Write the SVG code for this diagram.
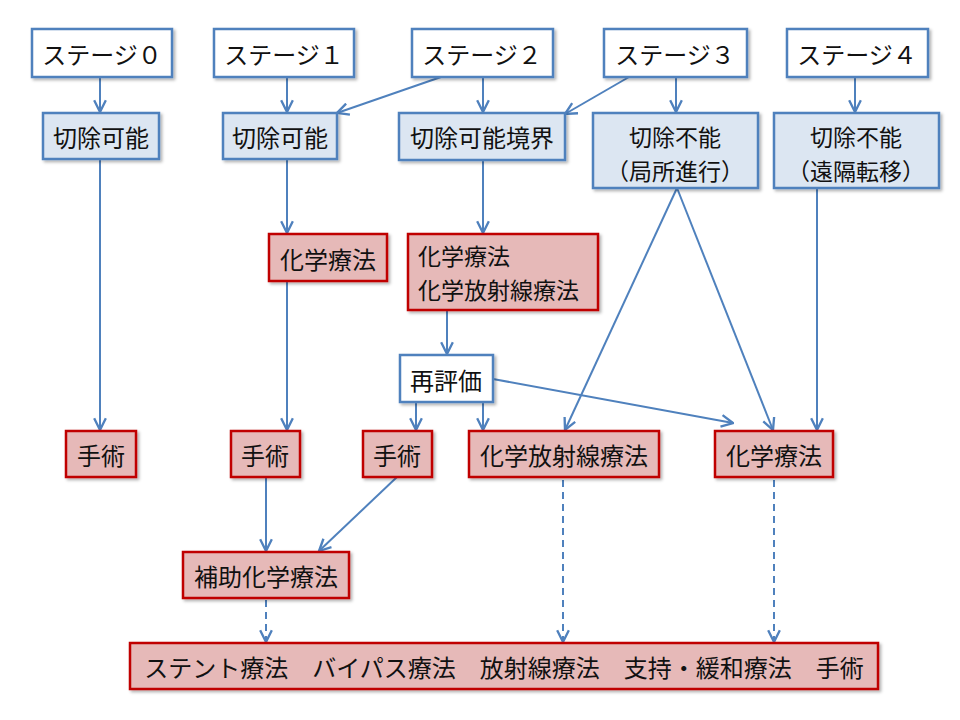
<svg xmlns="http://www.w3.org/2000/svg" width="960" height="720" viewBox="0 0 960 720">
<defs>
<style>
text{font-family:"Noto Sans CJK JP","Noto Sans CJK SC",sans-serif;font-size:24px;fill:#111;text-anchor:middle;dominant-baseline:central}
text.two{font-size:23px}
.st{fill:#fff;stroke:#4F81BD;stroke-width:2.5}
.bl{fill:#DCE6F2;stroke:#4F81BD;stroke-width:2.5}
.rd{fill:#E6B9B8;stroke:#C00000;stroke-width:2.5}
.sh{filter:url(#shadow)}
.c{fill:none;stroke:#4F81BD;stroke-width:2;marker-end:url(#arr)}
.d{stroke-dasharray:7 5}
</style>
<filter id="shadow" x="-10%" y="-10%" width="130%" height="140%">
<feDropShadow dx="2" dy="2" stdDeviation="1.5" flood-color="#000" flood-opacity="0.3"/>
</filter>
<marker id="arr" markerUnits="userSpaceOnUse" markerWidth="14" markerHeight="14" viewBox="0 0 12 12" refX="11" refY="6" orient="auto">
<path d="M1,1 L11,6 L1,11" fill="none" stroke="#4F81BD" stroke-width="2"/>
</marker>
</defs>
<rect width="960" height="720" fill="#fff"/>

<g id="connectors">
<path class="c" d="M100,77 L100,112"/>
<path class="c" d="M287,77 L287,112"/>
<path class="c" d="M441,77 L337,113"/>
<path class="c" d="M483,77 L483,112"/>
<path class="c" d="M629,77 L565,114"/>
<path class="c" d="M676,77 L676,112"/>
<path class="c" d="M855,77 L855,112"/>
<path class="c" d="M100,159 L100,430"/>
<path class="c" d="M287,159 L287,233"/>
<path class="c" d="M483,160 L483,233"/>
<path class="c" d="M287,281 L287,430"/>
<path class="c" d="M447,310 L447,354"/>
<path class="c" d="M416,402 L416,430"/>
<path class="c" d="M483,402 L483,430"/>
<path class="c" d="M493,379 L733,423"/>
<path class="c" d="M677,188 L565,430"/>
<path class="c" d="M677,188 L773,430"/>
<path class="c" d="M817,188 L817,430"/>
<path class="c" d="M266,477 L266,551"/>
<path class="c" d="M397,477 L319,551"/>
<path class="c d" d="M266,600 L266,642"/>
<path class="c d" d="M563,480 L563,642"/>
<path class="c d" d="M774,480 L774,642"/>
</g>

<g id="stage0"><rect class="st sh" x="32" y="29" width="140" height="48"/><text x="102" y="53">ステージ０</text></g>
<g id="stage1"><rect class="st sh" x="214" y="29" width="140" height="48"/><text x="284" y="53">ステージ１</text></g>
<g id="stage2"><rect class="st sh" x="412" y="29" width="141" height="48"/><text x="482" y="53">ステージ２</text></g>
<g id="stage3"><rect class="st sh" x="604" y="29" width="143" height="48"/><text x="675" y="53">ステージ３</text></g>
<g id="stage4"><rect class="st sh" x="787" y="29" width="141" height="48"/><text x="857" y="53">ステージ４</text></g>

<g id="resectable0"><rect class="bl sh" x="43" y="113" width="116" height="46"/><text x="101" y="136">切除可能</text></g>
<g id="resectable1"><rect class="bl sh" x="223" y="113" width="114" height="46"/><text x="280" y="136">切除可能</text></g>
<g id="borderline"><rect class="bl sh" x="399" y="113" width="166" height="47"/><text x="482" y="136">切除可能境界</text></g>
<g id="unresectable-local"><rect class="bl sh" x="593" y="113" width="165" height="75"/><text class="two" x="675" y="136"><tspan x="675" y="136">切除不能</tspan><tspan x="675" y="170">（局所進行）</tspan></text></g>
<g id="unresectable-meta"><rect class="bl sh" x="774" y="113" width="165" height="75"/><text class="two" x="856" y="136"><tspan x="856" y="136">切除不能</tspan><tspan x="856" y="170">（遠隔転移）</tspan></text></g>

<g id="chemo1"><rect class="rd sh" x="269" y="234" width="118" height="47"/><text x="328" y="258">化学療法</text></g>
<g id="chemo-crt"><rect class="rd sh" x="408" y="234" width="190" height="76"/><text class="two" x="418" y="255" style="text-anchor:start"><tspan x="418" y="255">化学療法</tspan><tspan x="418" y="289">化学放射線療法</tspan></text></g>

<g id="reeval"><rect class="st sh" x="400" y="355" width="93" height="47"/><text x="446" y="379">再評価</text></g>

<g id="surgery0"><rect class="rd sh" x="66" y="431" width="70" height="46"/><text x="101" y="454">手術</text></g>
<g id="surgery1"><rect class="rd sh" x="231" y="431" width="69" height="46"/><text x="265" y="454">手術</text></g>
<g id="surgery2"><rect class="rd sh" x="363" y="431" width="69" height="46"/><text x="397" y="454">手術</text></g>
<g id="crt"><rect class="rd sh" x="469" y="431" width="190" height="46"/><text x="564" y="454">化学放射線療法</text></g>
<g id="chemo-r"><rect class="rd sh" x="715" y="431" width="118" height="46"/><text x="774" y="454">化学療法</text></g>

<g id="adjuvant"><rect class="rd sh" x="183" y="552" width="166" height="46"/><text x="266" y="575">補助化学療法</text></g>

<g id="palliative"><rect class="rd sh" x="130" y="643" width="748" height="46"/><text x="504" y="666">ステント療法　バイパス療法　放射線療法　支持・緩和療法　手術</text></g>
</svg>
